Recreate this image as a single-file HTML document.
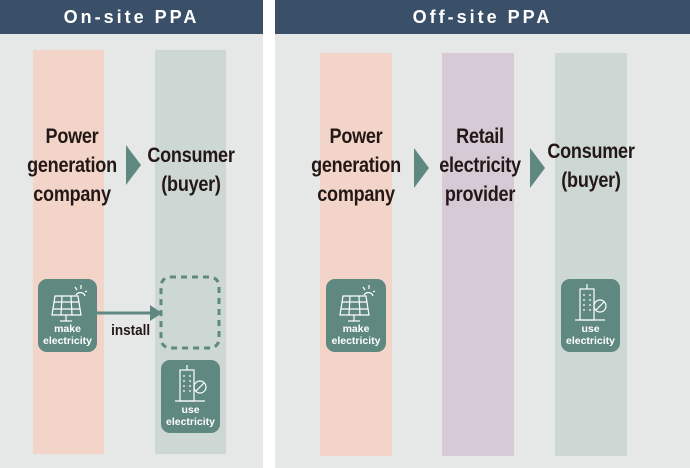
<!DOCTYPE html>
<html><head><style>
body{margin:0;width:690px;height:468px;background:#fff;position:relative;overflow:hidden;font-family:"Liberation Sans",sans-serif}
.a{position:absolute}
.panel{background:#e6e8e7}
.hdr{background:#3a5068;color:#fff;font-weight:bold;font-size:18px;letter-spacing:3px;text-align:center;line-height:34px}
.col{position:absolute}
.t{position:absolute;font-weight:bold;font-size:21px;line-height:29px;color:#231815;text-align:center;transform:scaleX(0.86);white-space:nowrap;letter-spacing:-0.3px}
.box{position:absolute;background:#5e8880;border-radius:9px;color:#fff;font-weight:bold;font-size:10.5px;line-height:12px;text-align:center}
.box .l{position:absolute;left:0;right:0;bottom:5px}
</style></head><body>
<div class="a panel" style="left:0;top:0;width:263px;height:468px"></div>
<div class="a panel" style="left:275px;top:0;width:415px;height:468px"></div>
<div class="a hdr" style="left:0;top:0;width:263px;height:34px">On-site PPA</div>
<div class="a hdr" style="left:275px;top:0;width:415px;height:34px">Off-site PPA</div>

<div class="col" style="left:33px;top:50px;width:71px;height:404px;background:#f2d4c9"></div>
<div class="col" style="left:155px;top:50px;width:71px;height:404px;background:#cdd7d4"></div>
<div class="col" style="left:320px;top:53px;width:72px;height:403px;background:#f2d4c9"></div>
<div class="col" style="left:442px;top:53px;width:72px;height:403px;background:#d5cad6"></div>
<div class="col" style="left:555px;top:53px;width:72px;height:403px;background:#cdd7d4"></div>

<div class="t" style="left:2px;width:140px;top:122px">Power<br>generation<br>company</div>
<div class="t" style="left:121px;width:140px;top:141px">Consumer<br>(buyer)</div>
<div class="t" style="left:286px;width:140px;top:122px">Power<br>generation<br>company</div>
<div class="t" style="left:410px;width:140px;top:122px">Retail<br>electricity<br>provider</div>
<div class="t" style="left:521px;width:140px;top:137px">Consumer<br>(buyer)</div>

<svg class="a" style="left:0;top:0" width="690" height="468">
<polygon points="126,145 141,165 126,185" fill="#5e8880"/>
<polygon points="414,148 429,168 414,188" fill="#5e8880"/>
<polygon points="530,148 545,168 530,188" fill="#5e8880"/>
<line x1="97" y1="313" x2="152" y2="313" stroke="#5e8880" stroke-width="3"/>
<polygon points="150,305 162,313 150,321" fill="#5e8880"/>
<rect x="161" y="277" width="58" height="71" rx="9" fill="none" stroke="#5e8880" stroke-width="3" stroke-dasharray="6,5"/>
</svg>
<div class="a" style="left:109px;top:322px;font-weight:bold;font-size:15px;color:#231815;transform:scaleX(0.9)">install</div>

<div class="box" style="left:38px;top:279px;width:59px;height:73px">
<svg style="position:absolute;left:11px;top:3px" width="40" height="40" fill="none" stroke="#fff" stroke-width="1.2"><polygon points="6,14 29,14 32,33 3,33"/><line x1="4.5" y1="20" x2="30.5" y2="20"/><line x1="4" y1="27" x2="31" y2="27"/><line x1="13" y1="14" x2="12" y2="33"/><line x1="22" y1="14" x2="23" y2="33"/><line x1="17" y1="33" x2="17" y2="39"/><line x1="11" y1="39" x2="23" y2="39"/><path d="M27,13 a5,5 0 0 1 9,1"/><line x1="32" y1="3" x2="32" y2="7"/><line x1="38" y1="9" x2="36" y2="10"/><line x1="26" y1="5" x2="28" y2="8"/></svg>
<div class="l">make<br>electricity</div></div>
<div class="box" style="left:326px;top:279px;width:60px;height:73px">
<svg style="position:absolute;left:11px;top:3px" width="40" height="40" fill="none" stroke="#fff" stroke-width="1.2"><polygon points="6,14 29,14 32,33 3,33"/><line x1="4.5" y1="20" x2="30.5" y2="20"/><line x1="4" y1="27" x2="31" y2="27"/><line x1="13" y1="14" x2="12" y2="33"/><line x1="22" y1="14" x2="23" y2="33"/><line x1="17" y1="33" x2="17" y2="39"/><line x1="11" y1="39" x2="23" y2="39"/><path d="M27,13 a5,5 0 0 1 9,1"/><line x1="32" y1="3" x2="32" y2="7"/><line x1="38" y1="9" x2="36" y2="10"/><line x1="26" y1="5" x2="28" y2="8"/></svg>
<div class="l">make<br>electricity</div></div>
<div class="box" style="left:161px;top:360px;width:59px;height:73px">
<svg style="position:absolute;left:13px;top:3px" width="36" height="40" fill="none" stroke="#fff" stroke-width="1.2"><rect x="6" y="7" width="14" height="31"/><line x1="13" y1="2" x2="13" y2="7"/><line x1="1" y1="38" x2="31" y2="38"/><circle cx="26" cy="24" r="6"/><line x1="22" y1="28" x2="30" y2="20"/><line x1="10" y1="12" x2="10" y2="30" stroke-dasharray="2,3"/><line x1="16" y1="12" x2="16" y2="30" stroke-dasharray="2,3"/></svg>
<div class="l">use<br>electricity</div></div>
<div class="box" style="left:561px;top:279px;width:59px;height:73px">
<svg style="position:absolute;left:13px;top:3px" width="36" height="40" fill="none" stroke="#fff" stroke-width="1.2"><rect x="6" y="7" width="14" height="31"/><line x1="13" y1="2" x2="13" y2="7"/><line x1="1" y1="38" x2="31" y2="38"/><circle cx="26" cy="24" r="6"/><line x1="22" y1="28" x2="30" y2="20"/><line x1="10" y1="12" x2="10" y2="30" stroke-dasharray="2,3"/><line x1="16" y1="12" x2="16" y2="30" stroke-dasharray="2,3"/></svg>
<div class="l">use<br>electricity</div></div>
</body></html>
